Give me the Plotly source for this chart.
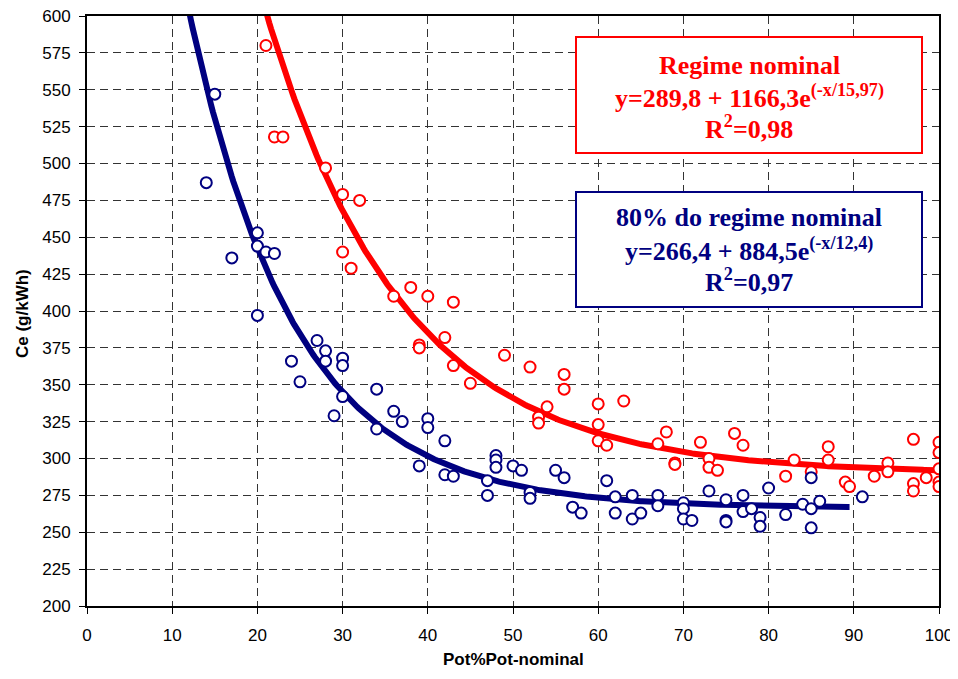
import numpy as np
import plotly.graph_objects as go

# Regime nominal (red) measured points
red_x = [21, 22, 23, 28, 30, 32, 30, 31, 38, 36, 40, 43, 42, 39, 39, 43, 45, 49, 52, 56, 56, 54, 53, 53,
         60, 60, 63, 60, 61, 68, 67, 69, 69, 72, 73, 73, 74, 76, 77,
         82, 83, 85, 87, 87, 89, 89.5, 92.4, 94, 94, 97, 97, 97, 98.5, 100, 100, 100, 100, 100]
red_y = [580, 518, 518, 497, 479, 475, 440, 429, 416, 410, 410, 406, 382, 377, 375, 363, 351, 370, 362, 357, 347, 335, 328, 324,
         337, 323, 339, 312, 309, 318, 310, 297, 296, 311, 300, 294, 292, 317, 309,
         288, 299, 291, 308, 299, 284, 281, 288, 297, 291, 313, 283, 278, 287, 311, 304, 293, 284, 281]

# 80% do regime nominal (navy) measured points
blue_x = [14, 15, 17, 20, 20, 21, 22, 20, 27, 28, 28, 24, 25, 30, 30, 30, 29, 34, 36, 37, 34,
          40, 40, 39, 42, 42, 43, 48, 48, 48, 47, 47, 50, 51, 52, 52, 55, 56, 57, 58,
          61, 62, 62, 64, 64, 65, 67, 67, 70, 70, 70, 71, 73, 75, 75, 75, 77, 77, 78, 79, 79,
          80, 82, 84, 85, 85, 85, 86, 91]
blue_y = [487, 547, 436, 453, 444, 440, 439, 397, 380, 373, 366, 366, 352, 368, 363, 342, 329, 347, 332, 325, 320,
          327, 321, 295, 312, 289, 288, 302, 299, 294, 285, 275, 295, 292, 277, 273, 292, 287, 267, 263,
          285, 274, 263, 275, 259, 263, 275, 268, 270, 266, 259, 258, 278, 272, 258, 257, 275, 264, 266, 260, 254,
          280, 262, 269, 287, 266, 253, 271, 274]

# Fitted trend parameters (as printed on the chart)
red_a, red_b, red_t = 289.8, 1166.3, 15.97
blue_a, blue_b, blue_t = 266.4, 884.5, 12.4

x_tick_vals = list(range(0, 101, 10))
y_tick_vals = list(range(200, 601, 25))

red_lines = ["Regime nominal", "y=289,8 + 1166,3e<sup>(-x/15,97)</sup>", "R<sup>2</sup>=0,98"]
blue_lines = ["80% do regime nominal", "y=266,4 + 884,5e<sup>(-x/12,4)</sup>", "R<sup>2</sup>=0,97"]

RED = "#FF0000"
NAVY = "#000080"

xr = np.linspace(15, 100, 400)
xb = np.linspace(10, 89.5, 400)

# page body has an 8px margin; figure sized to fit inside window
OFF = 8
W, H = 950, 663
L, T = 87 - OFF, 16 - OFF
Rr, Bb = W - (939 - OFF), H - (606 - OFF)
pw, ph = W - L - Rr, H - T - Bb
def px(x): return (x - OFF - L) / pw
def py(y): return 1 - (y - OFF - T) / ph

fig = go.Figure()
fig.add_trace(go.Scatter(x=xr, y=red_a + red_b * np.exp(-xr / red_t), mode="lines",
                         line=dict(color=RED, width=6), hoverinfo="skip"))
fig.add_trace(go.Scatter(x=xb, y=blue_a + blue_b * np.exp(-xb / blue_t), mode="lines",
                         line=dict(color=NAVY, width=6), hoverinfo="skip"))
fig.add_trace(go.Scatter(x=red_x, y=red_y, mode="markers",
                         marker=dict(symbol="circle", size=11, color="white",
                                     line=dict(color=RED, width=2))))
fig.add_trace(go.Scatter(x=blue_x, y=blue_y, mode="markers",
                         marker=dict(symbol="circle", size=11, color="white",
                                     line=dict(color=NAVY, width=2))))

sans = "Liberation Sans, Arial"
axis_common = dict(showline=True, linecolor="black", linewidth=2, mirror=True,
                   showgrid=True, gridcolor="#333333", griddash="8px,5px", gridwidth=1,
                   ticks="outside", ticklen=6, tickcolor="black", zeroline=False,
                   automargin=False, ticklabeloverflow="allow",
                   tickfont=dict(family=sans, size=17, color="black"))

fig.update_xaxes(range=[0, 100], tickvals=x_tick_vals, ticklabelstandoff=7, **axis_common)
fig.update_yaxes(range=[200, 600], tickvals=y_tick_vals, ticklabelstandoff=5, **axis_common)

fig.add_annotation(x=px(513), y=py(660), xref="paper", yref="paper", showarrow=False,
                   xanchor="center", yanchor="middle",
                   text="<b>Pot%Pot-nominal</b>", font=dict(family=sans, size=17, color="black"))
fig.add_annotation(x=px(22), y=py(314), xref="paper", yref="paper", showarrow=False, textangle=-90,
                   xanchor="center", yanchor="middle",
                   text="<b>Ce (g/kWh)</b>", font=dict(family=sans, size=17, color="black"))

fig.add_shape(type="rect", xref="paper", yref="paper", x0=px(576), x1=px(922), y0=py(37), y1=py(153),
              line=dict(color=RED, width=2), fillcolor="white", layer="above")
fig.add_shape(type="rect", xref="paper", yref="paper", x0=px(576), x1=px(922), y0=py(192), y1=py(307),
              line=dict(color=NAVY, width=2), fillcolor="white", layer="above")

serif = "Liberation Serif, Times New Roman"
for txt, yc in zip(red_lines, [65, 97, 127]):
    fig.add_annotation(x=px(749), y=py(yc), xref="paper", yref="paper", showarrow=False,
                       xanchor="center", yanchor="middle",
                       text="<b>" + txt + "</b>", font=dict(family=serif, size=26, color=RED))
for txt, yc in zip(blue_lines, [218, 249, 280]):
    fig.add_annotation(x=px(749), y=py(yc), xref="paper", yref="paper", showarrow=False,
                       xanchor="center", yanchor="middle",
                       text="<b>" + txt + "</b>", font=dict(family=serif, size=26, color=NAVY))

fig.update_layout(width=W, height=H, margin=dict(l=L, r=Rr, t=T, b=Bb, autoexpand=False),
                  plot_bgcolor="white", paper_bgcolor="white", showlegend=False,
                  font=dict(family=sans, color="black"))

fig.write_html("out.html")
